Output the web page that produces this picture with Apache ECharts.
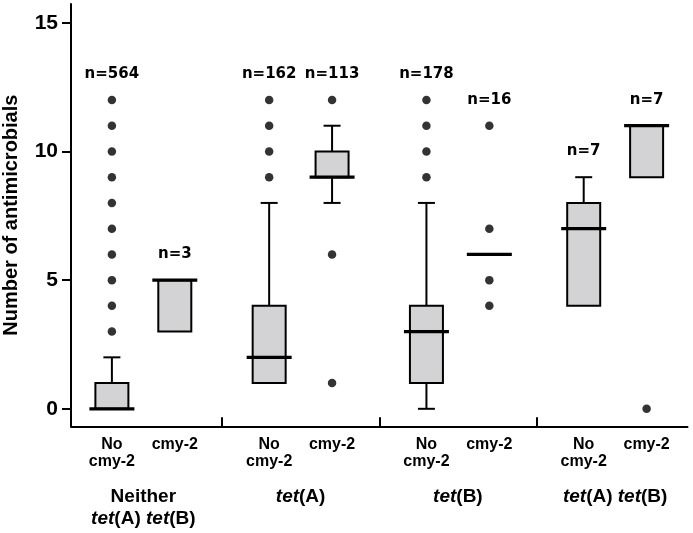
<!DOCTYPE html>
<html>
<head>
<meta charset="utf-8">
<script src="https://cdn.jsdelivr.net/npm/echarts@6/dist/echarts.min.js"></script>
<style>html,body{margin:0;padding:0;background:#fff;}#c{width:693px;height:533px;}</style>
</head>
<body>
<div id="c"></div>
<script>
// ---- data ----
const groups = ['Neither\ntet(A) tet(B)', 'tet(A)', 'tet(B)', 'tet(A) tet(B)'];
const subCategories = ['No\ncmy-2', 'cmy-2'];
const nCounts = [564, 3, 162, 113, 178, 16, 7, 7];
const whiskerLow = [0, 3, 1, 8, 0, 6, 4, 9];
const q1 = [0, 3, 1, 9, 1, 6, 4, 9];
const median = [0, 5, 2, 9, 3, 6, 7, 11];
const q3 = [1, 5, 4, 10, 4, 6, 8, 11];
const whiskerHigh = [2, 5, 8, 11, 8, 6, 9, 11];
const outliers = [
  [3, 4, 5, 6, 7, 8, 9, 10, 11, 12],
  [],
  [9, 10, 11, 12],
  [1, 6, 12],
  [9, 10, 11, 12],
  [4, 5, 7, 11],
  [],
  [0]
];
const yTicks = [0, 5, 10, 15];
const yTitle = 'Number of antimicrobials';

// ---- layout helpers (positions on the x value axis) ----
const GROUP_STEP = 5, SUB_STEP = 2;
const pos = nCounts.map((_, i) => Math.floor(i / 2) * GROUP_STEP + (i % 2) * SUB_STEP);
const groupCenters = groups.map((_, g) => g * GROUP_STEP + SUB_STEP / 2);
const separators = groups.slice(1).map((_, g) => g * GROUP_STEP + SUB_STEP + (GROUP_STEP - SUB_STEP) / 2);
const X_MIN = -1.3, X_MAX = 18.3;

const boxData = nCounts.map((_, i) => [pos[i], whiskerLow[i], q1[i], median[i], q3[i], whiskerHigh[i]]);
const outlierData = [];
outliers.forEach((arr, i) => arr.forEach(v => outlierData.push([pos[i], v])));
const topVal = nCounts.map((_, i) => Math.max(whiskerHigh[i], ...outliers[i]));

const BOX_W = 33, MED_W = 45, CAP_W = 17;
const FONT = 'Liberation Sans';

function renderBox(params, api) {
  const i = params.dataIndex;
  const x = api.value(0);
  const c = v => api.coord([x, v]);
  const cx = c(api.value(3))[0];
  const yMin = c(api.value(1))[1], yQ1 = c(api.value(2))[1], yMed = c(api.value(3))[1];
  const yQ3 = c(api.value(4))[1], yMax = c(api.value(5))[1];
  const kids = [];
  const lineStyle = { stroke: '#000', lineWidth: 2, fill: null };
  if (yMax < yQ3) {
    kids.push({ type: 'line', shape: { x1: cx, y1: yQ3, x2: cx, y2: yMax }, style: lineStyle });
    kids.push({ type: 'line', shape: { x1: cx - CAP_W / 2, y1: yMax, x2: cx + CAP_W / 2, y2: yMax }, style: lineStyle });
  }
  if (yMin > yQ1) {
    kids.push({ type: 'line', shape: { x1: cx, y1: yQ1, x2: cx, y2: yMin }, style: lineStyle });
    kids.push({ type: 'line', shape: { x1: cx - CAP_W / 2, y1: yMin, x2: cx + CAP_W / 2, y2: yMin }, style: lineStyle });
  }
  if (yQ1 - yQ3 > 0.5) {
    kids.push({ type: 'rect', shape: { x: cx - BOX_W / 2, y: yQ3, width: BOX_W, height: yQ1 - yQ3 },
      style: { fill: '#d3d3d5', stroke: '#000', lineWidth: 2 } });
  }
  kids.push({ type: 'line', shape: { x1: cx - MED_W / 2, y1: yMed, x2: cx + MED_W / 2, y2: yMed },
    style: { stroke: '#000', lineWidth: 3.2 } });
  const yTop = c(topVal[i])[1];
  kids.push({ type: 'text', style: { text: 'n=' + nCounts[i], x: cx, y: yTop - 26, align: 'center', verticalAlign: 'middle',
    font: 'bold 15px "DejaVu Sans"', fill: '#000' } });
  return { type: 'group', children: kids };
}

const chart = echarts.init(document.getElementById('c'), null, { renderer: 'canvas' });
chart.setOption({
  animation: false,
  backgroundColor: '#fff',
  grid: { left: 71, right: 5.5, top: 4, bottom: 106.7, containLabel: false, outerBoundsMode: 'none' },
  xAxis: [
    {
      type: 'value', min: X_MIN, max: X_MAX, position: 'bottom',
      splitLine: { show: false },
      axisLine: { show: true, onZero: false, lineStyle: { color: '#000', width: 2 } },
      axisTick: { show: true, inside: true, length: 9, lineStyle: { color: '#000', width: 2 }, customValues: separators },
      axisLabel: {
        customValues: pos,
        formatter: v => { const i = pos.findIndex(p => Math.abs(p - v) < 1e-6); return i < 0 ? '' : subCategories[i % 2]; },
        color: '#000', fontFamily: FONT, fontWeight: 'bold', fontSize: 16,
        lineHeight: 17, margin: 10, align: 'center'
      }
    },
    {
      type: 'value', min: X_MIN, max: X_MAX, position: 'bottom', offset: 0,
      splitLine: { show: false },
      axisLine: { show: false, onZero: false },
      axisTick: { show: false },
      axisLabel: {
        customValues: groupCenters,
        formatter: v => { const g = groupCenters.findIndex(p => Math.abs(p - v) < 1e-6); return g < 0 ? '' : groups[g].replace(/tet/g, '{i|tet}'); },
        color: '#000', fontFamily: FONT, fontWeight: 'bold', fontSize: 19,
        lineHeight: 21.5, margin: 60,
        rich: { i: { fontStyle: 'italic', fontWeight: 'bold', fontSize: 19, fontFamily: FONT, color: '#000', lineHeight: 21.5 } }
      }
    }
  ],
  yAxis: {
    type: 'value', min: -0.68, max: 15.73,
    name: yTitle, nameLocation: 'middle', nameGap: 50, nameMoveOverlap: false,
    nameTextStyle: { color: '#000', fontFamily: FONT, fontWeight: 'bold', fontSize: 20 },
    splitLine: { show: false },
    axisLine: { show: true, onZero: false, lineStyle: { color: '#000', width: 2 } },
    axisTick: { show: true, length: 9, lineStyle: { color: '#000', width: 2 }, customValues: yTicks },
    axisLabel: { customValues: yTicks, color: '#000', fontFamily: FONT, fontWeight: 'bold', fontSize: 21, margin: 13 }
  },
  series: [
    {
      type: 'custom', xAxisIndex: 0, renderItem: renderBox,
      encode: { x: 0, y: [1, 2, 3, 4, 5] },
      data: boxData, clip: false
    },
    {
      type: 'scatter', xAxisIndex: 0, symbol: 'circle', symbolSize: 8.5,
      itemStyle: { color: '#000' }, data: outlierData
    }
  ]
});
</script>
</body>
</html>
